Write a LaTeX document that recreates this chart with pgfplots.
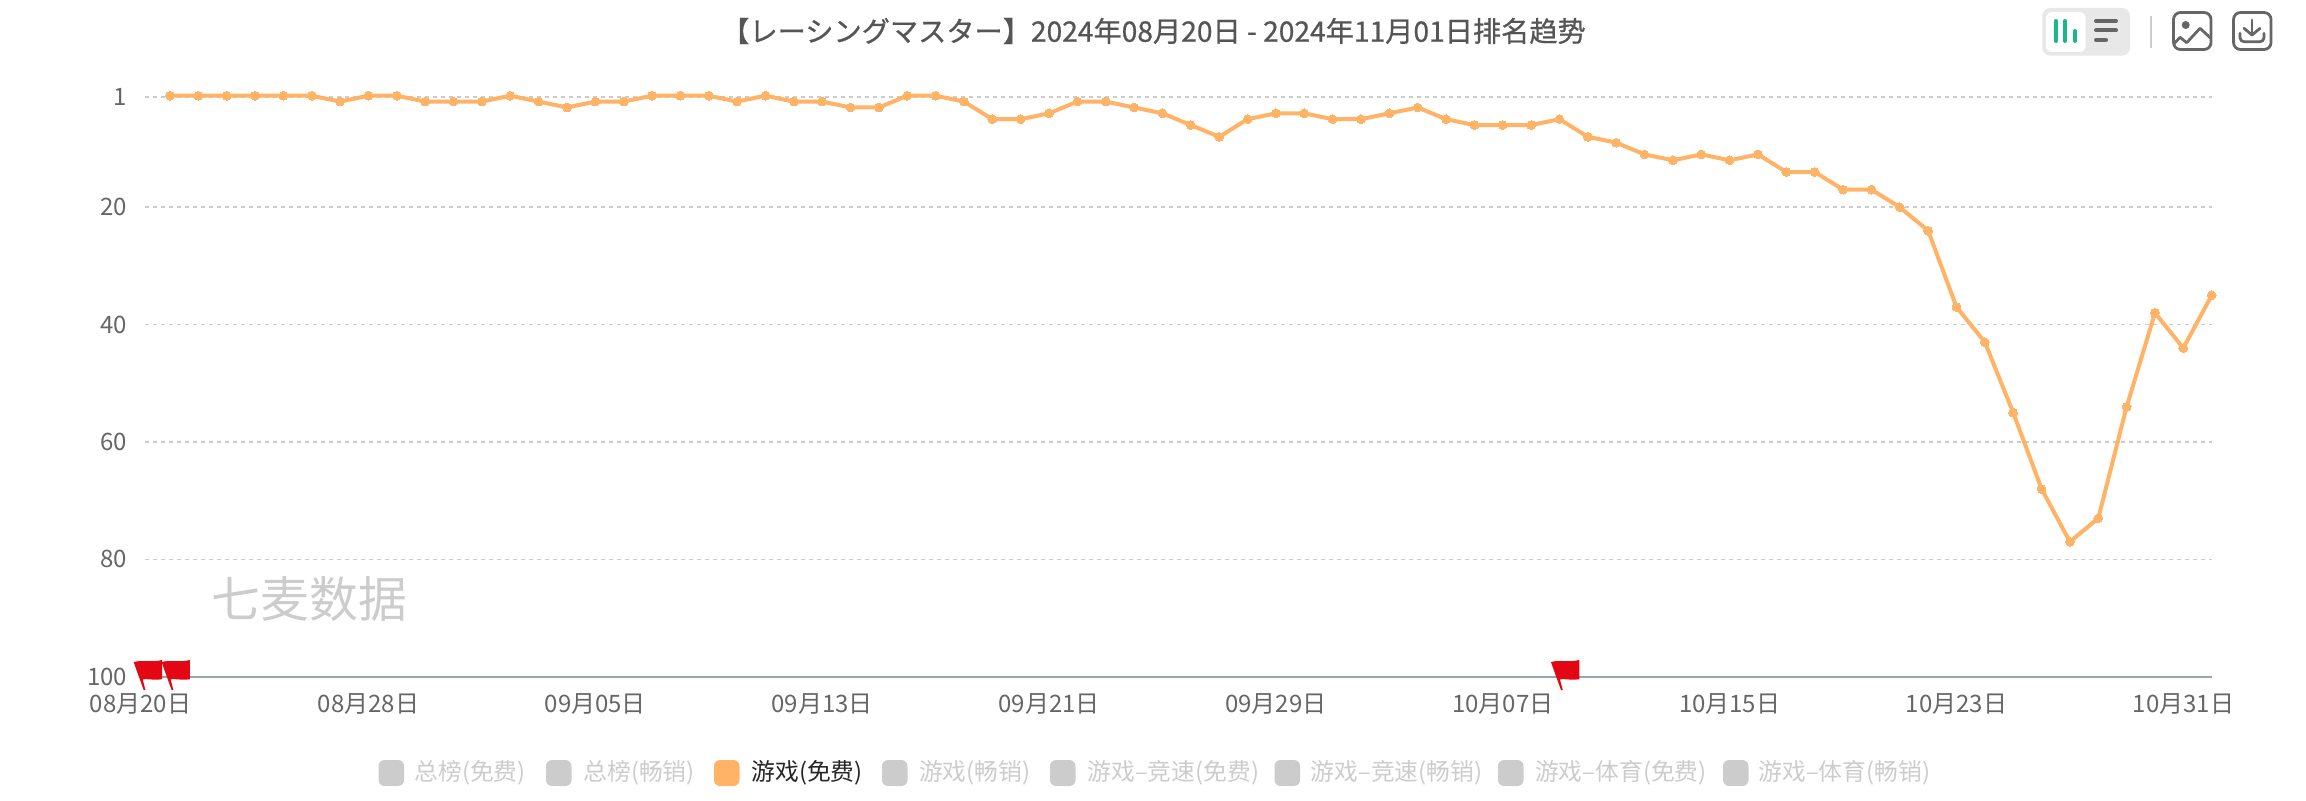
\documentclass[border=0pt]{standalone}
\usepackage{fontspec}
\usepackage{pgfplots}
\pgfplotsset{compat=1.18}
\setmainfont{Noto Sans CJK SC}
\newfontfamily\titlefont[FakeBold=0.7]{Noto Sans CJK SC}
\definecolor{lineor}{HTML}{FFB366}
\definecolor{gridc}{HTML}{CCCCCC}
\definecolor{axisc}{HTML}{9AA3B0}
\definecolor{tickc}{HTML}{666666}
\definecolor{titlec}{HTML}{555555}
\definecolor{flagred}{HTML}{E30613}
\definecolor{greenb}{HTML}{18B78E}
\definecolor{legc}{HTML}{CCCCCC}
\pgfdeclareplotmark{flag}{%
 \pgfpathmoveto{\pgfpoint{-5.4pt}{7.3pt}}%
 \pgfpathcurveto{\pgfpoint{-2pt}{8.6pt}}{\pgfpoint{4pt}{6.9pt}}{\pgfpoint{8.8pt}{8.4pt}}%
 \pgfpathlineto{\pgfpoint{8.8pt}{-1.3pt}}%
 \pgfpathcurveto{\pgfpoint{5pt}{-1.9pt}}{\pgfpoint{1pt}{-0.9pt}}{\pgfpoint{-0.9pt}{-1.3pt}}%
 \pgfpathlineto{\pgfpoint{0.5pt}{-6.65pt}}%
 \pgfpathlineto{\pgfpoint{-0.4pt}{-6.65pt}}%
 \pgfpathclose
 \pgfusepathqfill}
\begin{document}
\begin{tikzpicture}
\useasboundingbox (0,0) rectangle (1153pt,400pt);
\begin{axis}[
  at={(72.7pt,61.65pt)}, anchor=south west,
  scale only axis, width=1033.15pt, height=290.5pt,
  xmin=-0.867, xmax=72, ymin=1, ymax=100, y dir=reverse,
  clip=false,
  axis line style={draw=none},
  major tick length=0pt,
  xtick={-0.867,7,15,23,31,39,47,55,63,71},
  xticklabels={\kern-5pt 08月20日,08月28日,09月05日,09月13日,09月21日,09月29日,10月07日,10月15日,10月23日,10月31日},
  ytick={1.17,20,40,60,80},
  yticklabels={1,20,40,60,80},
  extra y ticks={100},
  extra y tick labels={100},
  extra y tick style={ymajorgrids=true, grid style={solid,color=axisc,line width=1pt}},
  ymajorgrids=true,
  grid style={color=gridc,line width=0.8pt,dash pattern=on 2pt off 2pt},
  tick label style={font=\fontsize{12}{12}\selectfont,text=tickc},
  yticklabel style={inner sep=0pt,xshift=-9pt},
  xticklabel style={inner sep=0pt,yshift=-8.4pt},
]
\addplot[color=lineor,line width=2pt,mark=*,mark size=2.2pt,mark options={line width=0pt,fill=lineor,solid}] coordinates {
(0,1)(1,1)(2,1)(3,1)(4,1)(5,1)(6,2)(7,1)(8,1)(9,2)(10,2)(11,2)(12,1)(13,2)(14,3)(15,2)(16,2)(17,1)(18,1)(19,1)
(20,2)(21,1)(22,2)(23,2)(24,3)(25,3)(26,1)(27,1)(28,2)(29,5)(30,5)(31,4)(32,2)(33,2)(34,3)(35,4)(36,6)(37,8)(38,5)(39,4)
(40,4)(41,5)(42,5)(43,4)(44,3)(45,5)(46,6)(47,6)(48,6)(49,5)(50,8)(51,9)(52,11)(53,12)(54,11)(55,12)(56,11)(57,14)(58,14)(59,17)
(60,17)(61,20)(62,24)(63,37)(64,43)(65,55)(66,68)(67,77)(68,73)(69,54)(70,38)(71,44)(72,35)};
\addplot[only marks,mark=flag,mark options={fill=flagred,draw=none}] coordinates {(-0.9,100)(0.085,100)(49.08,100)};
\end{axis}
\begin{scope}[x=0.5pt,y=-0.5pt,yshift=400pt]
  % title
  \node[anchor=center,inner sep=0pt,text=titlec] at (1153.5,31) {\titlefont\fontsize{14.1}{14.1}\selectfont 【レーシングマスター】2024年08月20日 - 2024年11月01日排名趋势};
  % watermark
  \node[anchor=center,inner sep=0pt,text=legc] at (309.5,599) {\fontsize{24.4}{24.4}\selectfont 七麦数据};
  % legend
  \foreach \sx/\tx/\lab in {378.6/414/总榜(免费),546/583/总榜(畅销),882/918.6/游戏(畅销),1050/1087/游戏–竞速(免费),1274.5/1310.4/游戏–竞速(畅销),1498/1534.7/游戏–体育(免费),1723/1758/游戏–体育(畅销)}{
    \fill[legc,rounded corners=3pt] (\sx,760) rectangle ++(25.5,26);
    \node[anchor=west,inner sep=0pt,text=legc] at (\tx,773) {\fontsize{11.9}{11.9}\selectfont \lab};
  }
  \fill[lineor,rounded corners=3pt] (714,760) rectangle ++(25.5,26);
  \node[anchor=west,inner sep=0pt,text=black!85] at (751,773) {\fontsize{11.9}{11.9}\selectfont 游戏(免费)};
  % toolbar
  \fill[black!9,rounded corners=4pt] (2042.3,8) rectangle (2130,55.7);
  \fill[white,rounded corners=3pt] (2046,12) rectangle (2085.7,52);
  \begin{scope}[line cap=round,line width=2pt]
    \draw[greenb] (2055.7,21) -- (2055.7,41);
    \draw[greenb] (2065,21) -- (2065,41);
    \draw[greenb] (2075,31) -- (2075,41);
    \draw[tickc] (2096,21) -- (2116,21);
    \draw[tickc] (2096,30.3) -- (2116,30.3);
    \draw[tickc] (2096,40) -- (2106,40);
  \end{scope}
  \draw[gridc,line width=1pt] (2150.7,16) -- (2150.7,47.7);
  \begin{scope}[tickc,line width=1.4pt]
    \draw[rounded corners=3.5pt] (2173.5,12.5) rectangle (2211,49.5);
    \fill (2185.7,25) circle (4);
    \draw[line join=round] (2173.8,44) -- (2180,37.3) -- (2186.7,42.7) -- (2200,28.3) -- (2210.8,38.3);
    \draw[rounded corners=3.5pt] (2233.5,12.5) rectangle (2271,49.5);
    \draw[line cap=round,line join=round] (2252,20) -- (2252,35);
    \draw[line cap=round,line join=round] (2244,28.3) -- (2252,35) -- (2260,28.3);
    \draw[line cap=round,rounded corners=2pt] (2240,33.3) -- (2240,41.7) -- (2264,41.7) -- (2264,33.3);
  \end{scope}
\end{scope}
\end{tikzpicture}
\end{document}
